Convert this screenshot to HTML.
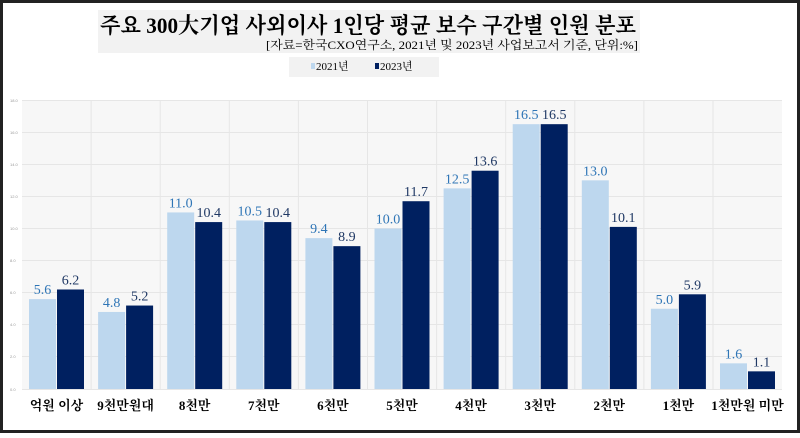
<!DOCTYPE html>
<html><head><meta charset="utf-8"><style>
body{margin:0;width:800px;height:433px;overflow:hidden;background:#fff}
</style></head><body>
<svg width="800" height="433" xmlns="http://www.w3.org/2000/svg" font-family="'Liberation Serif','Noto Serif CJK SC',serif">
<rect x="1.5" y="1.5" width="797" height="430" fill="#fff" stroke="#222" stroke-width="3"/>
<rect x="98" y="10" width="542" height="43" fill="#f2f2f2"/>
<text x="100" y="33" font-size="22" font-weight="bold" fill="#000" textLength="536" lengthAdjust="spacingAndGlyphs">주요 300大기업 사외이사 1인당 평균 보수 구간별 인원 분포</text>
<text x="266" y="49" font-size="12" fill="#000" textLength="372" lengthAdjust="spacingAndGlyphs">[자료=한국CXO연구소, 2021년 및 2023년 사업보고서 기준, 단위:%]</text>
<rect x="289" y="57" width="150" height="20" fill="#f2f2f2"/>
<rect x="311" y="63" width="4" height="6" fill="#bdd7ee"/>
<text x="316" y="70" font-size="11">2021년</text>
<rect x="375" y="63" width="4" height="6" fill="#002060"/>
<text x="380" y="70" font-size="11">2023년</text>
<rect x="22" y="100" width="760" height="289" fill="#f7f7f7"/>
<g stroke="#e6e6e6" stroke-width="1">
<line x1="22" x2="782" y1="100.5" y2="100.5"/><line x1="22" x2="782" y1="132.5" y2="132.5"/><line x1="22" x2="782" y1="164.5" y2="164.5"/><line x1="22" x2="782" y1="196.5" y2="196.5"/><line x1="22" x2="782" y1="228.5" y2="228.5"/><line x1="22" x2="782" y1="260.5" y2="260.5"/><line x1="22" x2="782" y1="292.5" y2="292.5"/><line x1="22" x2="782" y1="324.5" y2="324.5"/><line x1="22" x2="782" y1="356.5" y2="356.5"/><line x1="22" x2="782" y1="389.5" y2="389.5"/>
</g>
<g font-size="4" fill="#999" font-family="Liberation Sans,sans-serif">
<text x="10" y="102">18.0</text><text x="10" y="134">16.0</text><text x="10" y="166">14.0</text><text x="10" y="198">12.0</text><text x="10" y="230">10.0</text><text x="10" y="262">8.0</text><text x="10" y="294">6.0</text><text x="10" y="326">4.0</text><text x="10" y="358">2.0</text><text x="10" y="391">0.0</text>
</g>
<g id="bars"></g>
</svg>
<script>
var cats=["억원 이상","9천만원대","8천만","7천만","6천만","5천만","4천만","3천만","2천만","1천만","1천만원 미만"];
var a=[5.6,4.8,11.0,10.5,9.4,10.0,12.5,16.5,13.0,5.0,1.6];
var b=[6.2,5.2,10.4,10.4,8.9,11.7,13.6,16.5,10.1,5.9,1.1];
var g=document.getElementById("bars"),h="";
var w=69.1;
for(var i=0;i<11;i++){
 var x0=22+i*w;
 if(i>0)h+='<line x1="'+x0+'" x2="'+x0+'" y1="100" y2="389" stroke="#e6e6e6"/>';
 var ya=389-a[i]*16.05, yb=389-b[i]*16.05;
 h+='<rect x="'+(x0+7)+'" y="'+ya+'" width="27" height="'+(389-ya)+'" fill="#bdd7ee"/>';
 h+='<rect x="'+(x0+35)+'" y="'+yb+'" width="27" height="'+(389-yb)+'" fill="#002060"/>';
 h+='<text x="'+(x0+20.5)+'" y="'+(ya-5)+'" text-anchor="middle" font-size="14" fill="#2e75b6">'+a[i].toFixed(1)+'</text>';
 h+='<text x="'+(x0+48.5)+'" y="'+(yb-5)+'" text-anchor="middle" font-size="14" fill="#1f3864">'+b[i].toFixed(1)+'</text>';
 h+='<text x="'+(x0+34.5)+'" y="410" text-anchor="middle" font-size="13" font-weight="bold" fill="#000">'+cats[i]+'</text>';
}
g.innerHTML=h;
</script>
</body></html>
